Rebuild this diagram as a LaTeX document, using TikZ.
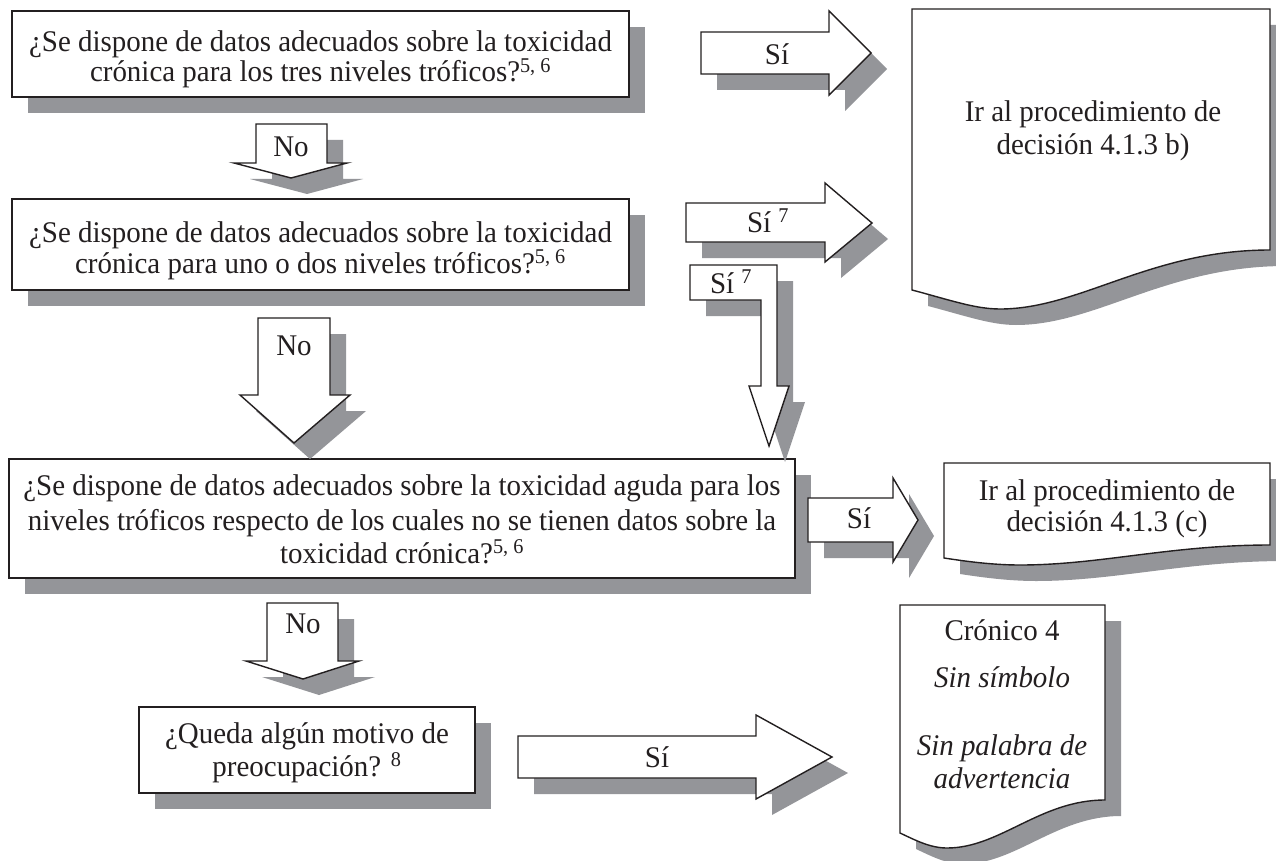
\documentclass[tikz,border=0pt]{standalone}
\usepackage{fontspec}
\setmainfont{Liberation Serif}[FakeStretch=0.965]
\definecolor{shadowgray}{RGB}{148,149,153}
\definecolor{ink}{RGB}{35,31,32}
\newcommand\shadowshape[1]{\fill[shadowgray,shift={(16,16)}] #1;\filldraw[fill=white,draw=ink,line width=1.4pt,line join=miter] #1;}
\begin{document}
\begin{tikzpicture}[x=1pt,y=-1pt,
  txt/.style={anchor=base,inner sep=0pt,font=\fontsize{30}{30}\selectfont,text=ink},
  itxt/.style={txt,font=\fontsize{30}{30}\selectfont\itshape}]
\useasboundingbox[fill=white] (0,0) rectangle (1276,861);
% boxes
\shadowshape{(12,11) rectangle (629,97)}
\shadowshape{(12,199) rectangle (629,290)}
\shadowshape{(9,459) rectangle (795,578)}
\shadowshape{(139,707) rectangle (475,793)}
% documents
\shadowshape{(912,9) -- (1270,9) -- (1270,250) .. controls (1150,250) and (1080,309) .. (1000,309) .. controls (975,309) and (950,300) .. (912,290) -- cycle}
\shadowshape{(944,463) -- (1270,463) -- (1270,545) .. controls (1170,545) and (1100,565) .. (1020,565) .. controls (995,565) and (970,562) .. (944,558) -- cycle}
\shadowshape{(900,605) -- (1105,605) -- (1105,800) .. controls (1040,800) and (1000,848) .. (947,848) .. controls (930,848) and (915,840) .. (900,833) -- cycle}
% block arrows
\shadowshape{(701,32) -- (829,32) -- (829,11) -- (871,53) -- (829,95) -- (829,74) -- (701,74) -- cycle}
\shadowshape{(686,203) -- (825,203) -- (825,183) -- (872,223) -- (825,262) -- (825,242) -- (686,242) -- cycle}
\shadowshape{(690,265) -- (777,265) -- (777,386) -- (789,386) -- (769,446) -- (749,386) -- (761,386) -- (761,300) -- (690,300) -- cycle}
\shadowshape{(808,498) -- (893,498) -- (893,478) -- (918,520) -- (893,562) -- (893,542) -- (808,542) -- cycle}
\shadowshape{(518,736) -- (756,736) -- (756,715) -- (832,757) -- (756,799) -- (756,778) -- (518,778) -- cycle}
\shadowshape{(256,124) -- (327,124) -- (327,163) -- (347,163) -- (291,178) -- (234,163) -- (256,163) -- cycle}
\shadowshape{(258,318) -- (330,318) -- (330,395) -- (350,395) -- (294,443) -- (240,395) -- (258,395) -- cycle}
\shadowshape{(267,603) -- (338,603) -- (338,661) -- (359,661) -- (303,679) -- (246,661) -- (267,661) -- cycle}
% texts
\node[txt] (b1a) at (320.5,52) {¿Se dispone de datos adecuados sobre la toxicidad};
\node[txt] (b1b) at (320.5,82) {crónica para los tres niveles tróficos?\textsuperscript{5, 6}};
\node[txt] (b2a) at (320.5,242) {¿Se dispone de datos adecuados sobre la toxicidad};
\node[txt] (b2b) at (320.5,273) {crónica para uno o dos niveles tróficos?\textsuperscript{5, 6}};
\node[txt] (b3a) at (402,495) {¿Se dispone de datos adecuados sobre la toxicidad aguda para los};
\node[txt] (b3b) at (402,530) {niveles tróficos respecto de los cuales no se tienen datos sobre la};
\node[txt] (b3c) at (402,563) {toxicidad crónica?\textsuperscript{5, 6}};
\node[txt] (b4a) at (307,743) {¿Queda algún motivo de};
\node[txt] (b4b) at (307,776) {preocupación? \textsuperscript{8}};
\node[txt] (d1a) at (1093,122) {Ir al procedimiento de};
\node[txt] (d1b) at (1093,155) {decisión 4.1.3 b)};
\node[txt] (d2a) at (1107,500) {Ir al procedimiento de};
\node[txt] (d2b) at (1107,531) {decisión 4.1.3 (c)};
\node[txt] (d3a) at (1002,640) {Crónico 4};
\node[itxt] (d3b) at (1002,687) {Sin símbolo};
\node[itxt] (d3c) at (1002,755) {Sin palabra de};
\node[itxt] (d3d) at (1002,788) {advertencia};
\node[txt] (s1) at (777,65) {Sí};
\node[txt] (s2) at (768,232) {Sí \textsuperscript{7}};
\node[txt] (s3) at (731,293) {Sí \textsuperscript{7}};
\node[txt] (s4) at (859,528) {Sí};
\node[txt] (s5) at (657,767) {Sí};
\node[txt] (n1) at (291,157) {No};
\node[txt] (n2) at (294,355) {No};
\node[txt] (n3) at (303,633) {No};
\end{tikzpicture}
\end{document}
